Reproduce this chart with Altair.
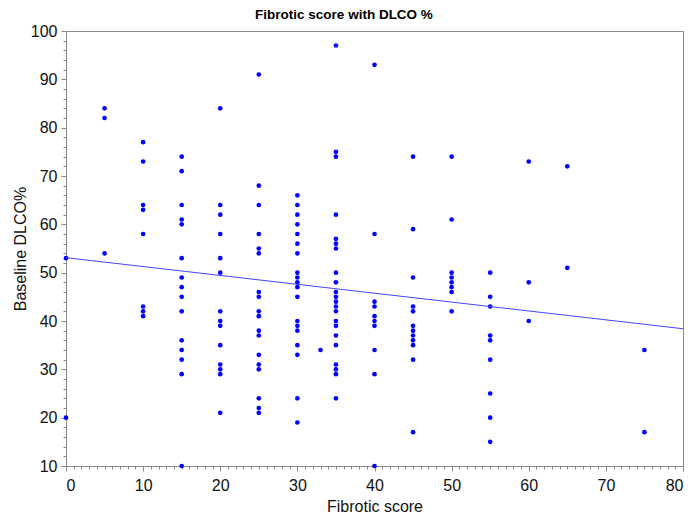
import altair as alt
import pandas as pd

# Fibrotic score groups and the Baseline DLCO% values read at each score
scores = [0, 5, 10, 15, 20, 25, 30, 33, 35, 40, 45, 50, 55, 60, 65, 75]
dlco_at_0 = [53, 20]
dlco_at_5 = [84, 82, 54]
dlco_at_10 = [77, 73, 64, 63, 58, 43, 42, 41]
dlco_at_15 = [74, 71, 64, 61, 60, 53, 49, 47, 45, 42, 36, 34, 32, 29, 10]
dlco_at_20 = [84, 64, 62, 58, 53, 50, 42, 40, 39, 35, 31, 30, 29, 21]
dlco_at_25 = [91, 68, 64, 58, 55, 54, 46, 45, 42, 41, 38, 37, 33, 31, 30, 24, 22, 21]
dlco_at_30 = [66, 64, 62, 60, 58, 56, 54, 50, 49, 48, 47, 45, 40, 39, 38, 35, 33, 24, 19]
dlco_at_33 = [34]
dlco_at_35 = [97, 75, 74, 62, 57, 56, 55, 50, 48, 46, 45, 44, 43, 42, 40, 39, 37, 35, 31, 30, 29, 24]
dlco_at_40 = [93, 58, 44, 43, 41, 40, 39, 34, 29, 10]
dlco_at_45 = [74, 59, 49, 43, 42, 39, 38, 37, 36, 35, 32, 17]
dlco_at_50 = [74, 61, 50, 49, 48, 47, 46, 42]
dlco_at_55 = [50, 45, 43, 37, 36, 32, 25, 20, 15]
dlco_at_60 = [73, 48, 40]
dlco_at_65 = [72, 51]
dlco_at_75 = [34, 17]

groups = [dlco_at_0, dlco_at_5, dlco_at_10, dlco_at_15, dlco_at_20, dlco_at_25,
          dlco_at_30, dlco_at_33, dlco_at_35, dlco_at_40, dlco_at_45, dlco_at_50,
          dlco_at_55, dlco_at_60, dlco_at_65, dlco_at_75]

# fitted line end points
fit_x = [0, 80]
fit_y = [53.1, 38.4]

x_ticks = [0, 10, 20, 30, 40, 50, 60, 70, 80]
y_ticks = [10, 20, 30, 40, 50, 60, 70, 80, 90, 100]
x_minor = list(range(0, 81))
y_minor = list(range(10, 101, 2))

rows = []
for s, vals in zip(scores, groups):
    for v in vals:
        rows.append({"score": s, "dlco": v})
df = pd.DataFrame(rows)
fit_df = pd.DataFrame({"score": fit_x, "dlco": fit_y})

FONT = "Liberation Sans"
GRAY = "#8a8a8a"
W, H = 617, 435

xscale = alt.Scale(domain=[0, 80], nice=False, zero=False)
yscale = alt.Scale(domain=[10, 100], nice=False, zero=False)

x_major = alt.Axis(values=x_ticks, orient="bottom", tickSize=5, labelPadding=6,
                   title="Fibrotic score", titleX=W / 2, titleY=45,
                   titleBaseline="alphabetic", titleAlign="center", grid=False)
y_major = alt.Axis(values=y_ticks, orient="left", tickSize=5, labelPadding=4,
                   title="Baseline DLCO%", titleX=-41, titleY=H / 2,
                   titleBaseline="alphabetic", titleAlign="center", titleAngle=-90,
                   grid=False)
x_minor_axis = alt.Axis(values=x_minor, orient="bottom", tickSize=3, labels=False,
                        domain=False, title=None, grid=False)
y_minor_axis = alt.Axis(values=y_minor, orient="left", tickSize=3, labels=False,
                        domain=False, title=None, grid=False)

points = alt.Chart(df).mark_circle(size=22, color="#0000ff", opacity=1).encode(
    x=alt.X("score:Q", scale=xscale, axis=x_major),
    y=alt.Y("dlco:Q", scale=yscale, axis=y_major),
)

fit = alt.Chart(fit_df).mark_line(color="#4646ff", strokeWidth=1).encode(
    x=alt.X("score:Q", scale=xscale, axis=x_minor_axis),
    y=alt.Y("dlco:Q", scale=yscale, axis=y_minor_axis),
)

chart = alt.layer(points, fit).resolve_axis(
    x="independent", y="independent"
).properties(
    width=W,
    height=H,
    autosize=alt.AutoSizeParams(type="none"),
    padding={"left": 58, "top": 23, "right": 9, "bottom": 47},
    title=alt.TitleParams(
        "Fibrotic score with DLCO %", font=FONT, fontSize=13.5, fontWeight="bold",
        anchor="middle", frame="group", dx=-30.5, offset=-9.5, baseline="alphabetic",
        color="#000000",
    ),
).configure_view(
    stroke=GRAY, strokeWidth=1
).configure_axis(
    labelFont=FONT, labelFontSize=16, labelColor="#111111",
    titleFont=FONT, titleFontSize=16, titleFontWeight="normal", titleColor="#111111",
    tickColor=GRAY, domainColor=GRAY,
)

chart.save("out.html", embed_options={"renderer": "svg", "actions": False})
